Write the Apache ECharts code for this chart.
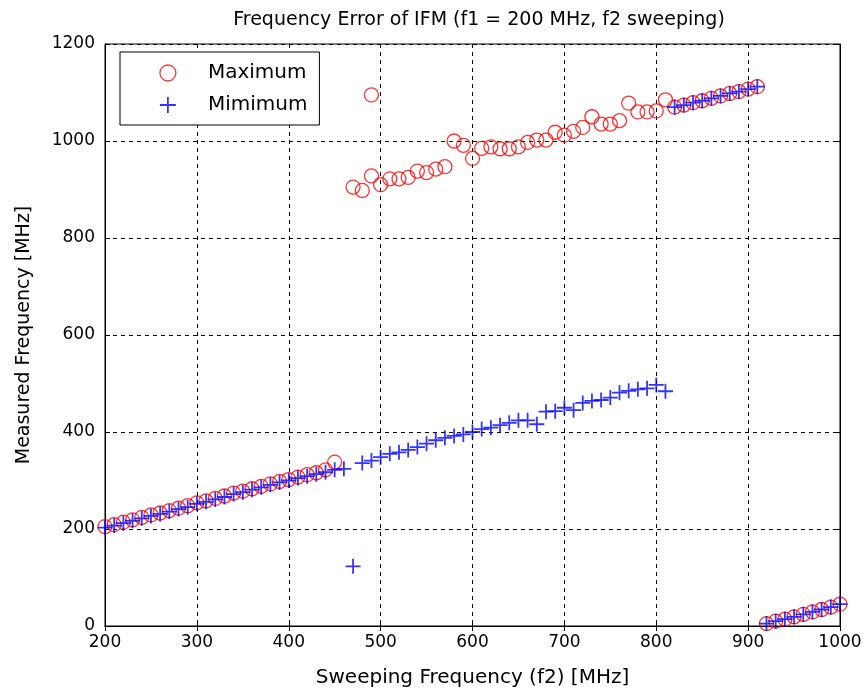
<!DOCTYPE html>
<html>
<head>
<meta charset="utf-8">
<script src="https://cdn.jsdelivr.net/npm/echarts@6/dist/echarts.min.js"></script>
<style>html,body{margin:0;padding:0;background:#fff;}#c{width:868px;height:693px;}</style>
</head>
<body>
<div id="c"></div>
<script>
// Sweep frequencies f2 (MHz)
const lowFreq = [200,210,220,230,240,250,260,270,280,290,300,310,320,330,340,350,360,370,380,390,400,410,420,430,440,450];
const lowMax  = [205,209,214,219,224,229,233,238,243,248,254,258,263,268,274,278,283,288,293,298,302,307,312,316,322,338];
const lowMin  = [203,207,212,217,222,227,231,236,241,245,252,256,261,266,272,276,281,286,291,296,300,305,309,313,317,322];

const midFreq = [460,470,480,490,500,510,520,530,540,550,560,570,580,590,600,610,620,630,640,650,660,670,680,690,700,710,720,730,740,750,760,770,780,790,800,810];
const midMax  = [null,905,898,928,910,922,922,925,938,935,942,947,1000,991,964,985,988,984,984,988,997,1002,1002,1018,1012,1020,1028,1050,1035,1035,1042,1078,1060,1060,1062,1085];
const midMin  = [324,123,336,341,348,355,358,363,369,376,383,388,392,395,400,406,409,414,419,424,424,416,442,443,450,445,460,464,466,471,481,485,488,490,497,484];

// isolated maximum reading (glitch)
const spikeFreq = [490];
const spikeMax  = [1095];

const highFreq = [820,830,840,850,860,870,880,890,900,910];
const highMax  = [1070,1074,1079,1083,1088,1093,1098,1102,1107,1112];
const highMin  = [1070,1074,1079,1083,1088,1093,1098,1102,1107,1112];

const wrapFreq = [920,930,940,950,960,970,980,990,1000];
const wrapMax  = [5,10,14,19,24,29,34,39,45];
const wrapMin  = [5,10,14,19,24,29,34,39,45];

const xTicks = [200,300,400,500,600,700,800,900,1000];
const yTicks = [0,200,400,600,800,1000,1200];

function pairs(fs, vs){ return fs.map((f,i)=>[f, vs[i]]).filter(p=>p[1]!==null); }
const freqAll = lowFreq.concat(midFreq, spikeFreq, highFreq, wrapFreq);
const maxAll = lowMax.concat(midMax, spikeMax, highMax, wrapMax);
const freqMinAll = lowFreq.concat(midFreq, highFreq, wrapFreq);
const minAll = lowMin.concat(midMin, highMin, wrapMin);

const FONT = 'DejaVu Sans';
const PLUS = 'path://M0,5L10,5M5,0L5,10';

const chart = echarts.init(document.getElementById('c'), null, {renderer:'canvas'});
const gridLine = {show:true, lineStyle:{color:'#000', type:[4,4], width:1}};
chart.setOption({
  backgroundColor:'#fff',
  animation:false,
  title:{
    text:'Frequency Error of IFM (f1 = 200 MHz, f2 sweeping)',
    left:474, top:6, textAlign:'center',
    textStyle:{fontFamily:FONT, fontSize:19, fontWeight:'normal', color:'#000'}
  },
  legend:{
    orient:'vertical', left:120, top:52,
    padding:[11,12,10,39],
    backgroundColor:'#fff',
    borderColor:'#000', borderWidth:1, borderRadius:0,
    itemWidth:70, itemHeight:16, itemGap:12,
    symbolKeepAspect:true,
    textStyle:{fontFamily:FONT, fontSize:20, color:'#000', lineHeight:20},
    data:[
      {name:'Maximum', icon:'circle', itemStyle:{color:'rgba(0,0,0,0)', borderColor:'#ff0000', borderWidth:1.3}},
      {name:'Mimimum', icon:PLUS, itemStyle:{color:'rgba(0,0,0,0)', borderColor:'#0000ff', borderWidth:1.8}}
    ]
  },
  grid:{left:105, right:28, top:44, bottom:67, show:true, borderColor:'#000', borderWidth:1, backgroundColor:'#fff'},
  xAxis:[{
    type:'value', min:200, max:1000, interval:100,
    name:'Sweeping Frequency (f2) [MHz]', nameLocation:'middle', nameGap:42,
    nameTextStyle:{fontFamily:FONT, fontSize:20, color:'#000'},
    axisLine:{show:true, lineStyle:{color:'#000', width:1}},
    axisTick:{show:true, inside:true, length:5, lineStyle:{color:'#000'}},
    axisLabel:{fontFamily:FONT, fontSize:17, color:'#000', margin:8,
      formatter:v=> xTicks.includes(v) ? String(v) : ''},
    splitLine:gridLine
  },{
    type:'value', min:200, max:1000, interval:100, position:'top',
    axisLine:{show:true, lineStyle:{color:'#000'}},
    axisTick:{show:true, inside:true, length:5, lineStyle:{color:'#000'}},
    axisLabel:{show:false}, splitLine:{show:false}
  }],
  yAxis:[{
    type:'value', min:0, max:1200, interval:200,
    name:'Measured Frequency [MHz]', nameLocation:'middle', nameGap:71,
    nameTextStyle:{fontFamily:FONT, fontSize:19, color:'#000'},
    axisLine:{show:true, lineStyle:{color:'#000', width:1}},
    axisTick:{show:true, inside:true, length:5, lineStyle:{color:'#000'}},
    axisLabel:{fontFamily:FONT, fontSize:17, color:'#000', margin:10,
      formatter:v=> yTicks.includes(v) ? String(v) : ''},
    splitLine:gridLine
  },{
    type:'value', min:0, max:1200, interval:200, position:'right',
    axisLine:{show:true, lineStyle:{color:'#000'}},
    axisTick:{show:true, inside:true, length:5, lineStyle:{color:'#000'}},
    axisLabel:{show:false}, splitLine:{show:false}
  }],
  series:[
    {
      name:'Maximum', type:'scatter', xAxisIndex:0, yAxisIndex:0,
      symbol:'circle', symbolSize:14,
      itemStyle:{color:'rgba(0,0,0,0)', borderColor:'#ff0000', borderWidth:1.3},
      data:pairs(freqAll, maxAll), z:3
    },
    {
      name:'Mimimum', type:'scatter', xAxisIndex:0, yAxisIndex:0,
      symbol:PLUS, symbolSize:15,
      itemStyle:{color:'rgba(0,0,0,0)', borderColor:'#0000ff', borderWidth:1.8},
      data:pairs(freqMinAll, minAll), z:4
    }
  ]
});
</script>
</body>
</html>
